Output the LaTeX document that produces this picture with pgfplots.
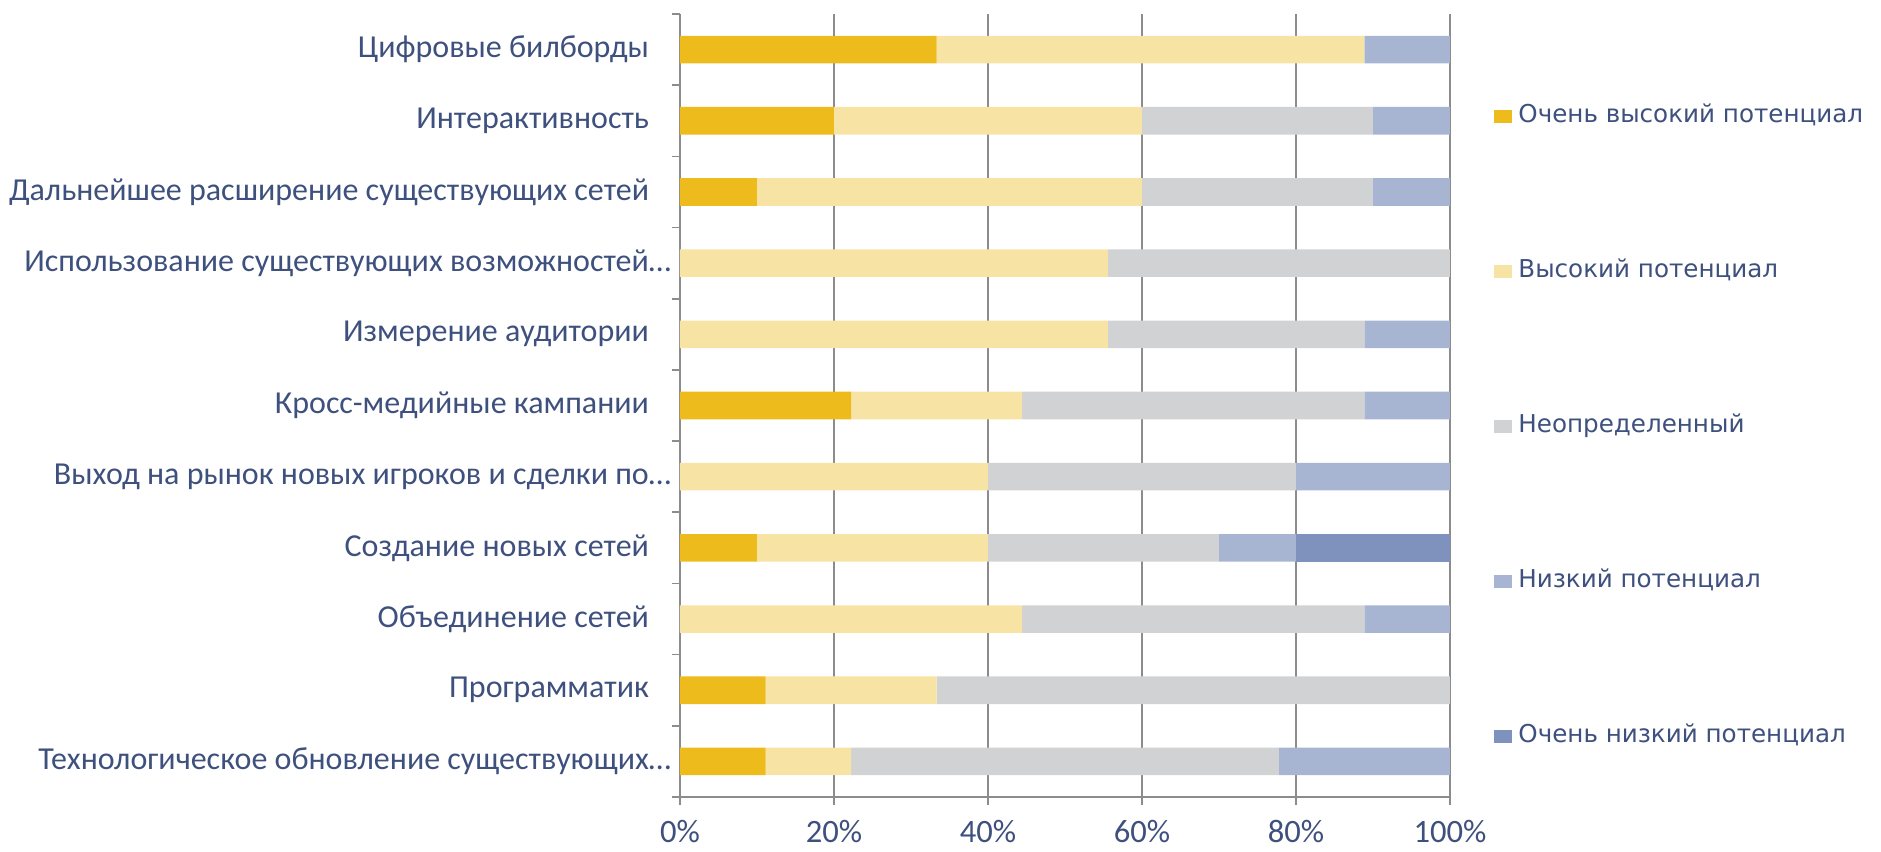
\documentclass[border=0pt]{standalone}
\usepackage{pgfplots}
\pgfplotsset{compat=1.18}
\usepackage{fontspec}
\setmainfont{Carlito}
\newfontfamily\legfont{DejaVu Sans}
\definecolor{vh}{RGB}{237,187,28}
\definecolor{hi}{RGB}{247,228,165}
\definecolor{un}{RGB}{209,210,212}
\definecolor{lo}{RGB}{167,180,210}
\definecolor{vl}{RGB}{127,145,189}
\definecolor{txt}{RGB}{62,80,125}
\definecolor{grd}{RGB}{140,140,140}
\begin{document}
\begin{tikzpicture}
\begin{axis}[
  scale only axis,
  width=385pt, height=391.5pt,
  xbar stacked,
  bar width=13.8pt,
  xmin=0, xmax=100,
  ymin=-0.5, ymax=10.5,
  y dir=reverse,
  axis x line*=bottom, axis y line*=left,
  axis line style={grd, line width=0.8pt},
  xtick={0,20,40,60,80,100},
  xticklabels={0\%,20\%,40\%,60\%,80\%,100\%},
  xmajorgrids, grid style={grd, line width=0.8pt},
  ytick={0,...,10},
  yticklabels={
    Цифровые билборды\hspace*{11pt},
    Интерактивность\hspace*{11pt},
    Дальнейшее расширение существующих сетей\hspace*{11pt},
    Использование существующих возможностей…,
    Измерение аудитории\hspace*{11pt},
    Кросс-медийные кампании\hspace*{11pt},
    Выход на рынок новых игроков и сделки по…,
    Создание новых сетей\hspace*{11pt},
    Объединение сетей\hspace*{11pt},
    Программатик\hspace*{11pt},
    Технологическое обновление существующих…},
  minor ytick={-0.5,0.5,...,10.5},
  major y tick style={draw=none},
  minor y tick style={grd, line width=0.8pt},
  major x tick style={grd, line width=0.8pt},
  tick align=outside,
  major tick length=4pt, minor tick length=4pt,
  yticklabel style={font=\fontsize{16}{18}\selectfont, text=txt, xshift=3pt},
  xticklabel style={font=\fontsize{16.3}{18}\selectfont, text=txt, yshift=-4pt},
  /pgf/number format/assume math mode=true,
  legend style={at={(1,1)}, anchor=north west, xshift=22pt, yshift=-45pt,
    draw=none, inner sep=0pt, row sep=65.5pt, column sep=3pt,
    font=\legfont\fontsize{12.3}{14}\selectfont, text=txt,
    nodes={inner sep=0pt, text height=9pt, text depth=3pt, anchor=west}},
  legend cell align=left,
  legend image code/.code={\fill[#1] (0pt,-3.3pt) rectangle (9pt,3.3pt);},
]
\addplot[fill=vh, draw=none] coordinates {(33.33,0) (20,1) (10,2) (0,3) (0,4) (22.22,5) (0,6) (10,7) (0,8) (11.11,9) (11.11,10)};
\addplot[fill=hi, draw=none] coordinates {(55.56,0) (40,1) (50,2) (55.56,3) (55.56,4) (22.22,5) (40,6) (30,7) (44.44,8) (22.22,9) (11.11,10)};
\addplot[fill=un, draw=none] coordinates {(0,0) (30,1) (30,2) (44.44,3) (33.33,4) (44.44,5) (40,6) (30,7) (44.44,8) (66.67,9) (55.56,10)};
\addplot[fill=lo, draw=none] coordinates {(11.11,0) (10,1) (10,2) (0,3) (11.11,4) (11.11,5) (20,6) (10,7) (11.11,8) (0,9) (22.22,10)};
\addplot[fill=vl, draw=none] coordinates {(0,0) (0,1) (0,2) (0,3) (0,4) (0,5) (0,6) (20,7) (0,8) (0,9) (0,10)};
\legend{Очень высокий потенциал, Высокий потенциал, Неопределенный, Низкий потенциал, Очень низкий потенциал}
\end{axis}
\path[use as bounding box] (-340pt,-27.5pt) rectangle (600.5pt,398.5pt);
\end{tikzpicture}
\end{document}
